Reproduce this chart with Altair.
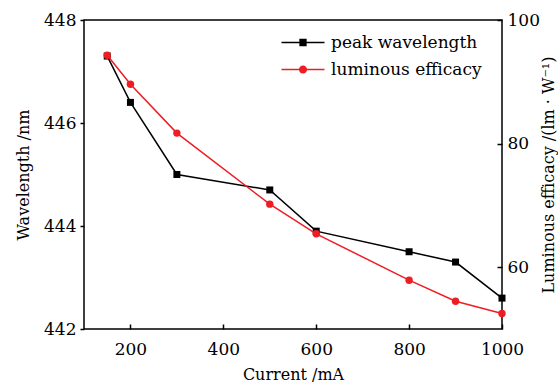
import altair as alt
import pandas as pd

current = [150, 200, 300, 500, 600, 800, 900, 1000]
wavelength = [447.3, 446.4, 445.0, 444.7, 443.9, 443.5, 443.3, 442.6]
efficacy = [94.3, 89.6, 81.7, 70.2, 65.4, 57.9, 54.5, 52.5]
series = ["peak wavelength", "luminous efficacy"]
colors = ["#000000", "#ee1d23"]
x_ticks = [200, 400, 600, 800, 1000]
left_ticks = [442, 444, 446, 448]
right_ticks = [60, 80, 100]

df = pd.DataFrame({"current": current, "wavelength": wavelength, "efficacy": efficacy})

FONT = "DejaVu Serif"
LBL = 17
TTL = 16

# legend symbols: thin bar with a marker in the middle (filled paths)
sq = "M-1,-0.035H1V0.035H-1ZM-0.17,-0.17H0.17V0.17H-0.17Z"
ci = "M-1,-0.035H1V0.035H-1ZM0.19,0A0.19,0.19 0 1,1 -0.19,0A0.19,0.19 0 1,1 0.19,0Z"

legend = alt.Legend(
    title=None, orient="none", legendX=197, legendY=10, padding=0,
    symbolSize=1850, clipHeight=25, labelFont=FONT, labelFontSize=LBL,
    labelColor="black", labelOffset=6, symbolOpacity=1, symbolStrokeWidth=0,
)

x_enc = alt.X(
    "current:Q",
    scale=alt.Scale(domain=[100, 1000], nice=False, zero=False),
    axis=alt.Axis(title="Current /mA", values=x_ticks, format="d", offset=-5,
                  tickSize=5, labelPadding=12, titlePadding=9, domain=False,
                  grid=False, labelFlush=False),
)

base = alt.Chart(df)

left_y = alt.Y(
    "wavelength:Q",
    scale=alt.Scale(domain=[442, 448], nice=False, zero=False),
    axis=alt.Axis(title="Wavelength /nm", orient="left", values=left_ticks,
                  format="d", tickSize=4, labelPadding=4, titlePadding=12,
                  domain=False, grid=False, labelFlush=False),
)
right_y = alt.Y(
    "efficacy:Q",
    scale=alt.Scale(domain=[50, 100], nice=False, zero=False),
    axis=alt.Axis(title="Luminous efficacy /(lm · W⁻¹)", orient="right",
                  values=right_ticks, format="d", offset=-5, tickSize=5,
                  labelPadding=5, titlePadding=1, titleAngle=270,
                  titleBaseline="top", domain=False, grid=False,
                  labelFlush=False),
)

key = base.mark_point(filled=True, opacity=0, size=10).encode(
    x=x_enc, y=left_y,
    color=alt.Color("s:N", scale=alt.Scale(domain=series, range=colors), legend=legend),
    shape=alt.Shape("s:N", scale=alt.Scale(domain=series, range=[sq, ci]), legend=legend),
).transform_calculate(s="datum.current < 0 ? '' : 'peak wavelength'")

left = alt.layer(
    base.mark_line(strokeWidth=1.5, color=colors[0]).encode(x=x_enc, y=left_y),
    base.mark_point(shape="square", filled=True, size=49, opacity=1,
                    color=colors[0]).encode(x=x_enc, y=left_y),
    key,
)

right = alt.layer(
    base.mark_line(strokeWidth=1.5, color=colors[1]).encode(x=x_enc, y=right_y),
    base.mark_point(shape="circle", filled=True, size=55, opacity=1,
                    color=colors[1]).encode(x=x_enc, y=right_y),
)

chart = alt.layer(left, right).resolve_scale(y="independent").properties(
    width=418, height=309,
    padding={"left": 84, "top": 20, "right": 56, "bottom": 56},
    autosize="none", background="white",
).configure_view(stroke="black", strokeWidth=1.5).configure_axis(
    labelFont=FONT, labelFontSize=LBL, labelColor="black",
    titleFont=FONT, titleFontSize=TTL, titleColor="black", titleFontWeight="normal",
    tickColor="black", tickWidth=1.5,
)

chart.save("out.html", embed_options={"renderer": "svg", "actions": False})
